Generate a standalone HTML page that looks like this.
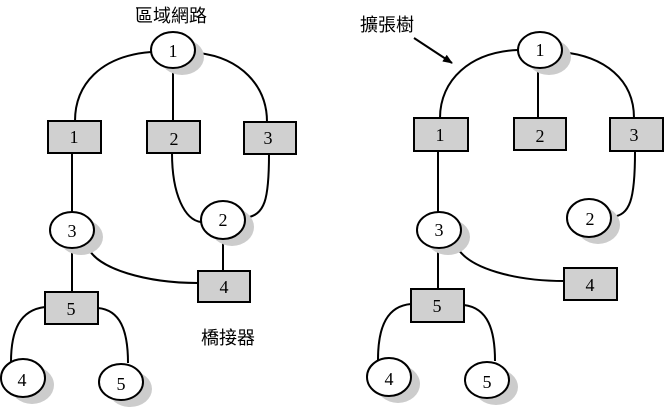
<!DOCTYPE html>
<html><head><meta charset="utf-8"><style>
html,body{margin:0;padding:0;background:#fff;}
svg{display:block;}
.n{font-family:"Liberation Serif",serif;font-size:18px;text-anchor:middle;dominant-baseline:central;}
.c{font-family:"Liberation Sans","Noto Sans CJK TC",sans-serif;font-size:18px;text-anchor:middle;dominant-baseline:central;}
</style></head><body>
<svg width="664" height="412" viewBox="0 0 664 412" xmlns="http://www.w3.org/2000/svg">
<defs>
<marker id="ah" markerWidth="10" markerHeight="8" refX="9" refY="4" orient="auto" markerUnits="userSpaceOnUse">
<path d="M0,0 L10,4 L0,8 z" fill="#000"/></marker>
</defs>
<g fill="none" stroke="#000" stroke-width="2">
<path d="M151,52 C100,56 75,85 75,121"/>
<path d="M199,53 C240,58 267,85 267,122"/>
<line x1="173" y1="68" x2="173" y2="121"/>
<line x1="72" y1="153" x2="72" y2="212"/>
<path d="M172,153 C172,195 185,220 201,222"/>
<path d="M269,154 C269,200 265,215 245,218"/>
<line x1="223" y1="239" x2="223" y2="271"/>
<path d="M87,245 C95,270 150,283 198,283"/>
<line x1="72" y1="248" x2="72" y2="292"/>
<path d="M45,307 C20,310 11,330 11,362"/>
<path d="M98,308 C120,310 128,330 128,363"/>
<path d="M518,50 C470,52 440,80 440,118"/>
<path d="M561,52 C605,56 634,80 634,118"/>
<line x1="538" y1="67" x2="538" y2="118"/>
<line x1="438" y1="151" x2="438" y2="212"/>
<path d="M635,152 C635,200 630,215 612,217"/>
<path d="M455,243 C465,270 520,281 564,281"/>
<line x1="438" y1="248" x2="438" y2="289"/>
<path d="M411,304 C388,306 378,325 378,360"/>
<path d="M464,305 C488,308 495,330 495,361"/>
<line x1="414" y1="38" x2="452" y2="63" marker-end="url(#ah)"/>
</g>
<g fill="#cccccc">
<ellipse cx="182" cy="57" rx="22" ry="18"/>
<ellipse cx="81" cy="237" rx="22" ry="18"/>
<ellipse cx="232" cy="227" rx="22" ry="19"/>
<ellipse cx="32" cy="385" rx="22" ry="19"/>
<ellipse cx="130" cy="389" rx="22" ry="18"/>
<ellipse cx="549" cy="57" rx="22" ry="18"/>
<ellipse cx="448" cy="237" rx="22" ry="18"/>
<ellipse cx="598" cy="225" rx="22" ry="19"/>
<ellipse cx="398" cy="384" rx="22" ry="19"/>
<ellipse cx="496" cy="387" rx="22" ry="18"/>
</g>
<g fill="#fff" stroke="#000" stroke-width="2">
<ellipse cx="173" cy="50" rx="22" ry="18"/>
<ellipse cx="72" cy="230" rx="22" ry="18"/>
<ellipse cx="223" cy="220" rx="22" ry="19"/>
<ellipse cx="23" cy="378" rx="22" ry="19"/>
<ellipse cx="121" cy="382" rx="22" ry="18"/>
<ellipse cx="540" cy="50" rx="22" ry="18"/>
<ellipse cx="439" cy="230" rx="22" ry="18"/>
<ellipse cx="589" cy="218" rx="22" ry="19"/>
<ellipse cx="389" cy="377" rx="22" ry="19"/>
<ellipse cx="487" cy="380" rx="22" ry="18"/>
</g>
<g fill="#d0d0d0" stroke="#000" stroke-width="2">
<rect x="48" y="121" width="53" height="32"/>
<rect x="147" y="121" width="53" height="32"/>
<rect x="244" y="122" width="52" height="32"/>
<rect x="198" y="271" width="52" height="31"/>
<rect x="45" y="292" width="53" height="32"/>
<rect x="414" y="118" width="54" height="33"/>
<rect x="514" y="118" width="52" height="32"/>
<rect x="610" y="118" width="53" height="33"/>
<rect x="564" y="268" width="53" height="32"/>
<rect x="411" y="289" width="53" height="33"/>
</g>
<g class="n">
<text x="173" y="51">1</text>
<text x="72" y="231">3</text>
<text x="223" y="220">2</text>
<text x="22" y="380">4</text>
<text x="121" y="384">5</text>
<text x="74" y="137">1</text>
<text x="174" y="139">2</text>
<text x="268" y="138">3</text>
<text x="224" y="287">4</text>
<text x="71" y="309">5</text>
<text x="540" y="50">1</text>
<text x="439" y="230">3</text>
<text x="590" y="219">2</text>
<text x="389" y="379">4</text>
<text x="487" y="382">5</text>
<text x="440" y="135">1</text>
<text x="540" y="136">2</text>
<text x="634" y="135">3</text>
<text x="590" y="285">4</text>
<text x="437" y="306">5</text>
</g>
<g class="c">
<text x="171" y="16">區域網路</text>
<text x="228" y="338">橋接器</text>
<text x="387" y="25">擴張樹</text>
</g>
</svg>
</body></html>
